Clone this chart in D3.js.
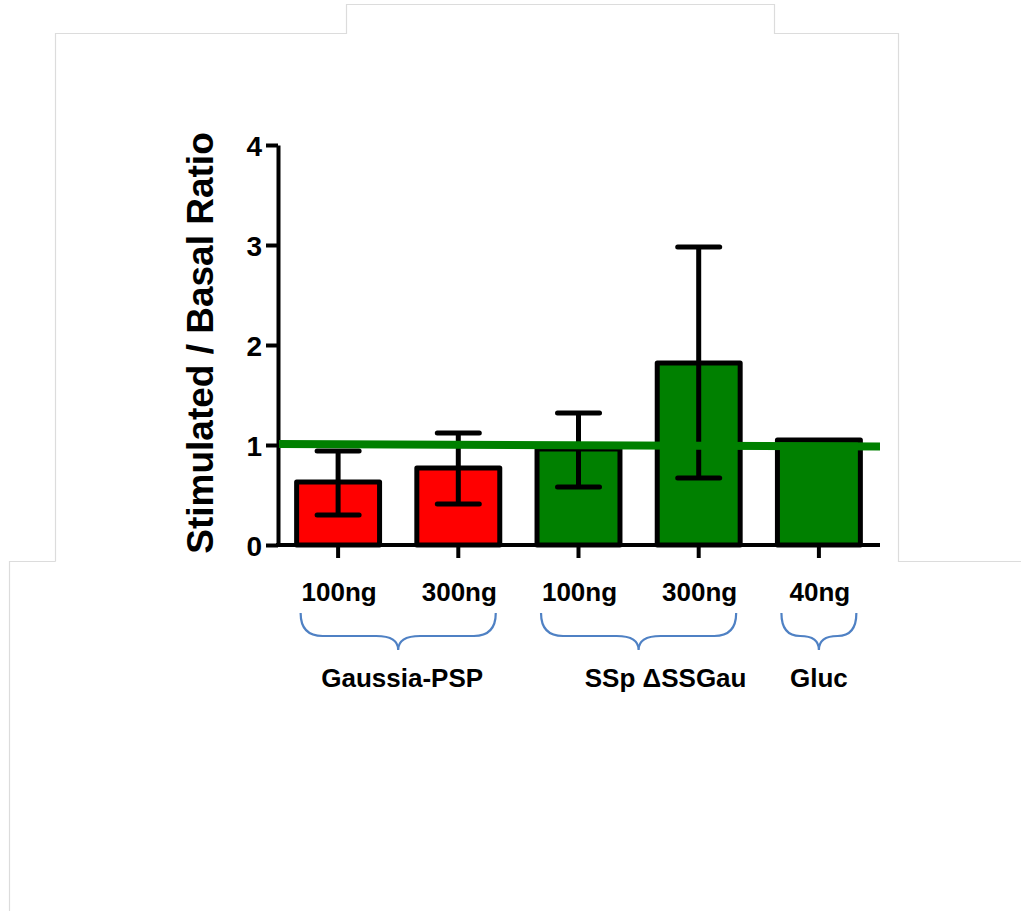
<!DOCTYPE html>
<html>
<head>
<meta charset="utf-8">
<script src="https://cdn.jsdelivr.net/npm/d3@7"></script>
<style>
  html, body { margin: 0; padding: 0; background: #ffffff; }
  svg { display: block; }
  text { font-family: "Liberation Sans", Arial, sans-serif; font-weight: bold; fill: #000; }
</style>
</head>
<body>
<svg id="chart" width="1021" height="911"></svg>
<script>
// ---- data ----
const categories = ["Gaussia-PSP 100ng", "Gaussia-PSP 300ng", "SSp ΔSSGau 100ng", "SSp ΔSSGau 300ng", "Gluc 40ng"];
const doseLabels = ["100ng", "300ng", "100ng", "300ng", "40ng"];
const means      = [0.63, 0.77, 0.96, 1.82, 1.05];
const errUpper   = [0.94, 1.12, 1.32, 2.98, null];
const errLower   = [0.30, 0.41, 0.58, 0.67, null];
const barColors  = ["#ff0000", "#ff0000", "#008000", "#008000", "#008000"];
const groupNames = ["Gaussia-PSP", "SSp ΔSSGau", "Gluc"];
const groupFirst = [0, 2, 4];
const groupLast  = [1, 3, 4];
const yTicks     = [0, 1, 2, 3, 4];
const refLine    = [1.01, 0.985]; // green reference line, value at left and right end

// ---- layout ----
const svg = d3.select("#chart");

// faint page outline
svg.append("path")
  .attr("d", "M55.5,561.5 L55.5,33.5 L346.5,33.5 L346.5,4.5 L774.5,4.5 L774.5,33.5 L898.5,33.5 L898.5,561.5 L1021,561.5 M55.5,561.5 L9.5,561.5 L9.5,911")
  .attr("fill", "none").attr("stroke", "#dcdcdc").attr("stroke-width", 1.2);

const x = d3.scaleBand().domain(categories).range([278, 879]).paddingInner(0.31).paddingOuter(0.155);
const y = d3.scaleLinear().domain([0, 4]).range([545, 145]);

// y axis
const yAxis = svg.append("g").attr("transform", "translate(278,0)")
  .call(d3.axisLeft(y).tickValues(yTicks).tickFormat(d3.format("d")).tickSize(12).tickSizeOuter(0));
yAxis.select(".domain").attr("stroke", "#000").attr("stroke-width", 4);
yAxis.selectAll(".tick line").attr("stroke", "#000").attr("stroke-width", 4);
yAxis.selectAll(".tick text").attr("x", -16).attr("dy", "0.36em")
  .style("font-size", "28px").style("font-weight", "bold").attr("fill", "#000")
  .style("font-family", "'Liberation Sans', Arial, sans-serif");

// x axis
const xAxis = svg.append("g").attr("transform", "translate(0,545)")
  .call(d3.axisBottom(x).tickSize(13).tickSizeOuter(0).tickFormat(""));
xAxis.select(".domain").attr("stroke", "#000").attr("stroke-width", 4)
  .attr("d", "M276,0H880");
xAxis.selectAll(".tick line").attr("stroke", "#000").attr("stroke-width", 4);

// bars
svg.append("g").selectAll("rect").data(categories).join("rect")
  .attr("x", d => x(d))
  .attr("y", (d, i) => y(means[i]))
  .attr("width", x.bandwidth())
  .attr("height", (d, i) => y(0) - y(means[i]))
  .attr("fill", (d, i) => barColors[i])
  .attr("stroke", "#000").attr("stroke-width", 5).attr("stroke-linejoin", "round");

// redraw axis baseline on top of bar bottoms
svg.append("line").attr("x1", 276).attr("x2", 880).attr("y1", 545).attr("y2", 545)
  .attr("stroke", "#000").attr("stroke-width", 4);

// error bars
const eb = svg.append("g").attr("stroke", "#000").attr("stroke-width", 5).attr("stroke-linecap", "round");
categories.forEach((c, i) => {
  if (errUpper[i] == null) return;
  const cx = x(c) + x.bandwidth() / 2;
  eb.append("line").attr("x1", cx).attr("x2", cx).attr("y1", y(errLower[i])).attr("y2", y(errUpper[i])).attr("stroke-linecap", "butt");
  [errUpper[i], errLower[i]].forEach(v => {
    eb.append("line").attr("x1", cx - 21).attr("x2", cx + 21).attr("y1", y(v)).attr("y2", y(v));
  });
});

// green reference line
svg.append("line")
  .attr("x1", 279).attr("x2", 880)
  .attr("y1", y(refLine[0])).attr("y2", y(refLine[1]))
  .attr("stroke", "#008000").attr("stroke-width", 8);

// dose labels
svg.append("g").selectAll("text").data(categories).join("text")
  .attr("x", d => x(d) + x.bandwidth() / 2 + 1)
  .attr("y", 601)
  .attr("text-anchor", "middle")
  .style("font-size", "26px")
  .text((d, i) => doseLabels[i]);

// braces + group labels
const groupLabelShift = [4, 27, 0];
const bg = svg.append("g");
groupNames.forEach((g, k) => {
  const x0 = x(categories[groupFirst[k]]) + 4;
  const x1 = x(categories[groupLast[k]]) + x.bandwidth() - 4;
  const xm = (x0 + x1) / 2;
  const y0 = 613, y1 = 636, y2 = 650;
  const r = Math.min(22, (x1 - x0) / 4);
  const p = d3.path();
  p.moveTo(x0, y0);
  p.quadraticCurveTo(x0, y1, x0 + r, y1);
  p.lineTo(xm - r, y1);
  p.quadraticCurveTo(xm, y1, xm, y2);
  p.quadraticCurveTo(xm, y1, xm + r, y1);
  p.lineTo(x1 - r, y1);
  p.quadraticCurveTo(x1, y1, x1, y0);
  bg.append("path").attr("d", p.toString())
    .attr("fill", "none").attr("stroke", "#4f81c4").attr("stroke-width", 2.2);
  bg.append("text").attr("x", xm + groupLabelShift[k]).attr("y", 687)
    .attr("text-anchor", "middle").style("font-size", "26px").text(g);
});

// y axis title
svg.append("text")
  .attr("transform", "translate(213,343) rotate(-90)")
  .attr("text-anchor", "middle")
  .style("font-size", "37px")
  .text("Stimulated / Basal Ratio");
</script>
</body>
</html>
